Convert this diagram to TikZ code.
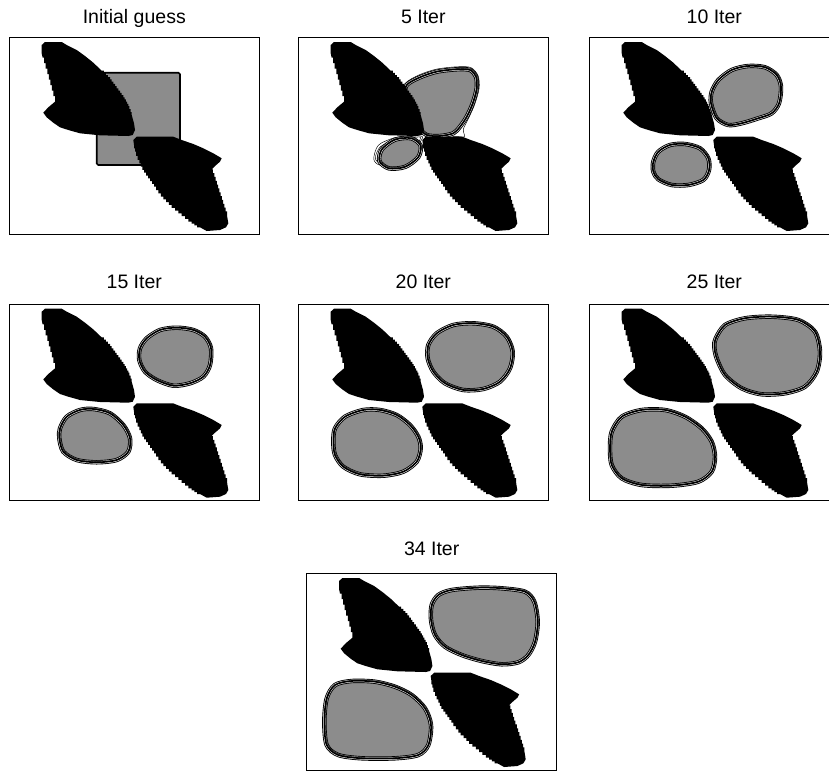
\documentclass[tikz,border=0pt]{standalone}
\usepackage{fontspec}
\setmainfont{Liberation Sans}
\definecolor{blobgray}{RGB}{140,140,140}
\tikzset{
  panelframe/.style={draw=black, line width=0.9pt},
  paneltitle/.style={anchor=base, font=\fontsize{19.5}{22}\selectfont, inner sep=0pt},
  seedbox/.style={fill=blobgray, draw=black, line width=1.6pt, rounded corners=1.5pt},
  thincontour/.style={draw=black, line width=0.45pt},
}
% the two fixed black obstacles, in panel coordinates (origin = frame top-left, y down)
\newcommand\obstacles{%
  \fill[black] (32.4,7.7) -- (35.7,4.7) -- (52.4,4.7) -- (57.4,7.7) -- (67.4,12.7)
    -- (75.7,18.7) -- (84,25.4) -- (92.4,33.4)
    \foreach \k in {1,...,4}{ -- ++(2.075,0) -- ++(0,2.15) }
    \foreach \k in {1,...,4}{ -- ++(1.675,0) -- ++(0,2.25) }
    \foreach \k in {1,...,4}{ -- ++(1.65,0) -- ++(0,2.25) }
    \foreach \k in {1,...,4}{ -- ++(1.25,0) -- ++(0,2.175) }
    \foreach \k in {1,...,3}{ -- ++(1.133,0) -- ++(0,3) }
    -- (124.7,86) -- (125.7,92.7) -- (123.4,97.7) -- (119,98.7)
    -- (90.7,98) -- (70.7,96) -- (59,92.7) -- (50.7,90) -- (44,85.4) -- (37.4,80)
    -- (34,75.4) -- (39,70) -- (45.7,64.4)
    \foreach \k in {1,...,8}{ -- ++(0,-5.5) -- ++(-1.55,0) }
    -- (32.4,16) -- cycle;
  \fill[black] (124,102.7) -- (127.4,99.4) -- (164,99.4) -- (172.4,102.7) -- (184,106.7)
    -- (194,111) -- (204,116) -- (212.4,121) -- (210.7,124.4) -- (205.7,128.7) -- (202.4,132)
    \foreach \k in {1,...,12}{ -- ++(1.275,0) -- ++(0,3.83) }
    -- (219,186) -- (216.7,190) -- (210.7,192.7) -- (197.4,193.7) -- (190.7,190)
    \foreach \k in {1,...,3}{ -- ++(-2.77,0) -- ++(0,-1.87) }
    \foreach \k in {1,...,3}{ -- ++(-3.33,0) -- ++(0,-2.8) }
    \foreach \k in {1,...,3}{ -- ++(-3.33,0) -- ++(0,-2.77) }
    \foreach \k in {1,...,3}{ -- ++(-2.8,0) -- ++(0,-2.77) }
    \foreach \k in {1,...,3}{ -- ++(-2.43,0) -- ++(0,-3.33) }
    \foreach \k in {1,...,3}{ -- ++(-2,0) -- ++(0,-2.8) }
    \foreach \k in {1,...,3}{ -- ++(-2,0) -- ++(0,-2.77) }
    \foreach \k in {1,...,3}{ -- ++(-1.57,0) -- ++(0,-3.33) }
    \foreach \k in {1,...,2}{ -- ++(-1.65,0) -- ++(0,-4.15) }
    \foreach \k in {1,...,2}{ -- ++(-1,0) -- ++(0,-3.35) }
    -- (124,102.7) -- cycle;
}
% an evolving grey region with its band of level-set contours
\newcommand\region[1]{%
  \fill[blobgray] plot[smooth cycle] coordinates {#1};
  \draw[black, line width=4.4pt] plot[smooth cycle] coordinates {#1};
  \draw[white, line width=2.6pt] plot[smooth cycle] coordinates {#1};
  \draw[black, line width=1.6pt] plot[smooth cycle] coordinates {#1};
  \draw[black, line width=0.45pt, shift={(0.9,-0.7)}] plot[smooth cycle] coordinates {#1};
}
\begin{document}
\begin{tikzpicture}[x=1pt, y=-1pt]
\useasboundingbox (0,0) rectangle (829,771);
\clip (0,0) rectangle (829,771);

% titles
\node[paneltitle] (t1) at (134.3,23.3) {Initial guess};
\node[paneltitle] (t2) at (423.3,23.3) {5 Iter};
\node[paneltitle] (t3) at (714.3,23.3) {10 Iter};
\node[paneltitle] (t4) at (134.3,288.3) {15 Iter};
\node[paneltitle] (t5) at (423.3,288.3) {20 Iter};
\node[paneltitle] (t6) at (714.3,288.3) {25 Iter};
\node[paneltitle] (t7) at (431.7,555.7) {34 Iter};

% initial guess
\begin{scope}[shift={(9.3,37.3)}]
  \draw[seedbox] (87.4,35.4) rectangle (170.7,127.7);
  \obstacles
  \draw[panelframe] (0,0) rectangle (250,196.7);
\end{scope}

% 5 iterations
\begin{scope}[shift={(298.3,37.3)}]
  \draw[thincontour] plot[smooth cycle] coordinates {(104,58) (107,46) (121,37.5) (138.4,31.8) (158.4,29.5) (172.5,30.2) (179.8,38.5) (180.8,51) (176.6,66.5) (170.5,80.5) (165,92) (166,99.5) (156,99) (141.7,100.5)};
  \draw[thincontour] plot[smooth cycle] coordinates {(75.5,122) (80,108) (96,100.5) (112,99) (124,99.2) (121,106) (113,117) (97,126.5) (82,128)};
  \draw[thincontour] plot[smooth cycle] coordinates {(77,121) (82,109.5) (97,102.5) (113,100.5) (122,100) (119,107) (111,116.5) (96,125) (83,126.5)};
  \region{(108.4,47.7) (121.7,40) (138.4,34.4) (158.4,32) (171.7,32.7) (177.7,39.4) (178.4,51) (174.4,66) (168.4,79.4) (161.7,89.4) (155,96) (141.7,98.7) (128.4,97.7) (120,89.4) (111.7,72.7) (106.7,59.4)}
  \begin{scope}[shift={(101.7,116)}, rotate=21]
    \region{(-22,0) (-15.6,-10.2) (0,-14.5) (15.6,-10.2) (22,0) (15.6,10.2) (0,14.5) (-15.6,10.2)}
  \end{scope}
  \obstacles
  \draw[panelframe] (0,0) rectangle (250,196.7);
\end{scope}

% 10 iterations
\begin{scope}[shift={(589.3,37.3)}]
  \region{(122.4,54.4) (129,42.7) (142.4,32.7) (159,28.7) (175.7,30) (187.4,37.7) (191.7,49.4) (189.7,66) (182.4,76) (169,81) (152.4,86) (139,87.7) (127.4,81) (121.7,66)}
  \region{(64,124.4) (69,114.4) (80.7,107.7) (95.7,106.7) (110.7,111) (119,121) (119.7,132.7) (114,142.7) (99,147.7) (82.4,147.7) (69,142) (64,134.4)}
  \obstacles
  \draw[panelframe] (0,0) rectangle (250,196.7);
\end{scope}

% 15 iterations
\begin{scope}[shift={(9.3,304)}]
  \region{(130.7,44.3) (137.4,34.3) (150.7,26) (167.4,23.7) (184,26) (195.7,32.7) (201.7,44.3) (200.7,61) (194,72.7) (180.7,79.3) (164,81.7) (147.4,76) (135.7,67.7) (130,56)}
  \region{(50.7,124.3) (57.4,112.7) (70.7,106) (84,105) (100.7,109.3) (114,121) (120.7,134.3) (119,147.7) (107.4,156) (87.4,158.3) (67.4,156) (54,147.7) (50,134.3)}
  \obstacles
  \draw[panelframe] (0,0) rectangle (250,196.7);
\end{scope}

% 20 iterations
\begin{scope}[shift={(298.3,304)}]
  \region{(130,41) (138.4,29.3) (155,21) (175,19.3) (195,22.7) (208.4,32.7) (214.4,47.7) (211.7,64.3) (201.7,77.7) (185,85) (165,86) (146.7,79.3) (135,67.7) (129.4,54.3)}
  \region{(36.7,124.3) (46.7,112.7) (65,106) (81.7,106) (98.4,111) (111.7,121) (120,132.7) (122.4,144.3) (118.4,157.7) (105,167.7) (85,171.7) (61.7,170.3) (45,162.7) (36.7,151) (35,137.7)}
  \obstacles
  \draw[panelframe] (0,0) rectangle (250,196.7);
\end{scope}

% 25 iterations
\begin{scope}[shift={(589.3,304)}]
  \region{(126.4,34.3) (135.7,21) (155.7,14.3) (182.4,12.7) (209,16) (225.7,27.7) (230.7,47.7) (227.4,67.7) (215.7,82.7) (195.7,89.3) (172.4,90.3) (152.4,84.3) (135.7,71) (127.4,54.3) (125,42.7)}
  \region{(22.4,127.7) (32.4,112.7) (52.4,106) (75.7,106) (95.7,112.7) (112.4,124.3) (122.4,137.7) (125.7,152.7) (122.4,167.7) (109,177.7) (82.4,181.7) (52.4,181) (32.4,174.3) (22.4,161) (20.7,144.3)}
  \obstacles
  \draw[panelframe] (0,0) rectangle (250,196.7);
\end{scope}

% 34 iterations
\begin{scope}[shift={(306.7,573.3)}]
  \region{(125,31.7) (131.6,21.7) (145,16.7) (171.6,14.4) (195,15) (218.3,18.4) (227.6,28.4) (231,48.4) (228.3,68.4) (221.6,81.7) (211.6,89) (195,91) (175,87.7) (155,81.7) (138.3,73.4) (128.3,61.7) (124.3,46.7)}
  \region{(20,125) (28.3,111.7) (45,107.7) (68.3,108.4) (88.3,113.4) (105,121.7) (118.3,135) (124.3,151.7) (121.6,171.7) (111.6,181.7) (88.3,185) (55,185) (31.6,181.7) (20,171.7) (17.6,148.4)}
  \obstacles
  \draw[panelframe] (0,0) rectangle (250,196.7);
\end{scope}
\end{tikzpicture}
\end{document}
